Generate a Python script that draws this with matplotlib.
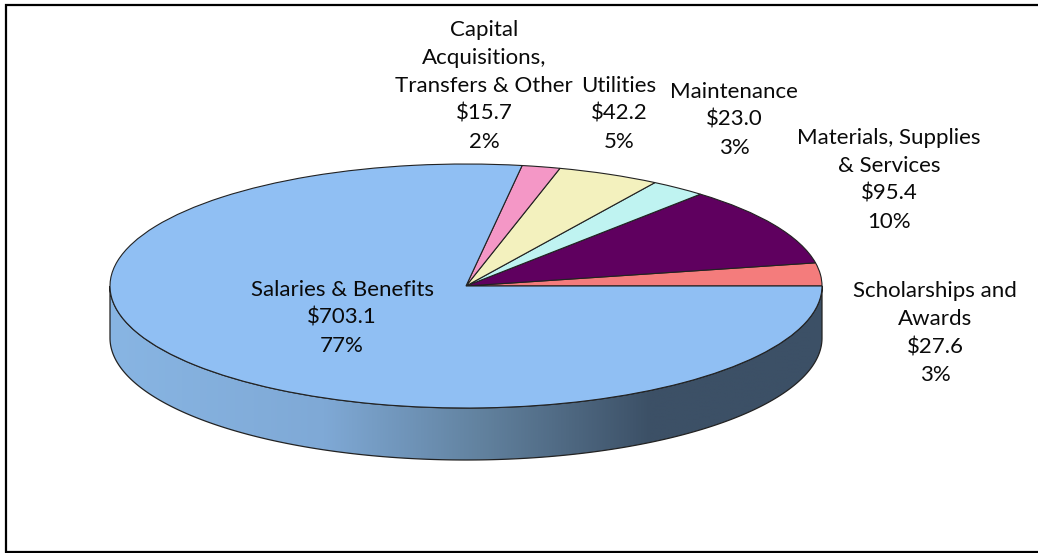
"""Expenditure 3D-look pie, drawn flat pie + gradient side wall."""
import matplotlib
matplotlib.use("Agg")
import matplotlib.pyplot as plt
import numpy as np
from matplotlib.colors import LinearSegmentedColormap
from matplotlib.patches import Polygon

plt.rcParams["font.family"] = ["Lato", "DejaVu Sans"]

categories = ["Scholarships and\nAwards", "Materials, Supplies\n& Services", "Maintenance",
              "Utilities", "Capital\nAcquisitions,\nTransfers & Other", "Salaries & Benefits"]
values = [27.6, 95.4, 23.0, 42.2, 15.7, 703.1]
percents = [3, 10, 3, 5, 2, 77]
colors = ["#F47C7C", "#5F005F", "#BFF3F1", "#F3F1BE", "#F497C6", "#90BFF3"]

# label centre positions in pixels of the reference
label_xy = [(935, 333), (889, 180), (734, 120), (619, 114), (484, 85.5), (342, 317.5)]

W, H = 1038, 553
CX, CY, RX, RY, DEPTH = 466, 286, 356, 122, 52


def to_x(px):
    return (px - CX) / RX


def to_y(py):
    return (CY - py) / RY


fig = plt.figure(figsize=(W / 100, H / 100), dpi=100)
ax = fig.add_axes([0, 0, 1, 1])

wedges, _ = ax.pie(values, colors=colors, startangle=0, counterclock=True, radius=1,
                   wedgeprops={"edgecolor": "#222222", "linewidth": 0.8})
for w in wedges:
    w.set_zorder(3)
ax.set_aspect("auto")
ax.set_frame_on(False)
ax.set_xticks([])
ax.set_yticks([])

# side wall
t = np.linspace(np.pi, 2 * np.pi, 300)
xs = np.cos(t)
ys = np.sin(t)
d = DEPTH / RY
wall = np.concatenate([np.c_[xs, ys], np.c_[xs[::-1], ys[::-1] - d]])
cmap = LinearSegmentedColormap.from_list("wall", [
    (0.0, "#88B5E3"), (0.30, "#7FA9D6"), (0.52, "#62829F"), (0.76, "#3C5066"), (1.0, "#3C5066")])
grad = np.linspace(0, 1, 512).reshape(1, -1)
im = ax.imshow(grad, cmap=cmap, aspect="auto", zorder=1,
               extent=(-1, 1, -1 - d, 0), interpolation="bilinear")
outline = Polygon(wall, closed=True, facecolor="none", edgecolor="#222222", linewidth=0.9, zorder=2)
ax.add_patch(outline)
im.set_clip_path(outline)
ax.set_xlim(to_x(0), to_x(W))
ax.set_ylim(to_y(H), to_y(0))

for name, v, pct, (px, py) in zip(categories, values, percents, label_xy):
    ax.text(to_x(px), to_y(py), f"{name}\n${v:.1f}\n{pct}%", ha="center", va="center",
            fontsize=16, color="#0A0A0A", linespacing=1.5, zorder=5)

# chart frame: top, left and bottom only, the right side is cut off in the reference
ax.plot([to_x(W), to_x(6), to_x(6), to_x(W)], [to_y(5), to_y(5), to_y(552), to_y(552)],
        color="black", linewidth=1.6, solid_joinstyle="miter", zorder=6, clip_on=False)

fig.savefig("out.png", dpi=100)
